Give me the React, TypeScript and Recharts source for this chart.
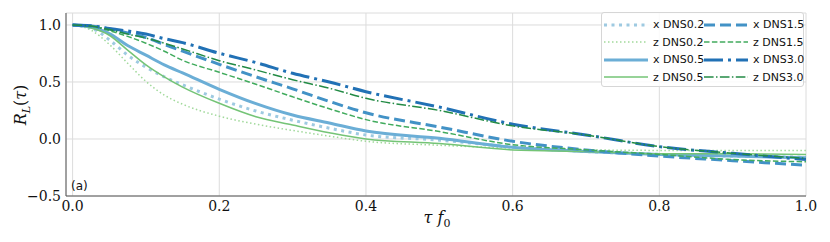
import React from "react";
import { LineChart, Line, XAxis, YAxis, CartesianGrid } from "recharts";

// lag tau*f0 and the correlation curves
const tau = [0, 0.025, 0.05, 0.075, 0.1, 0.125, 0.15, 0.2, 0.25, 0.3, 0.35, 0.4, 0.5, 0.6, 0.7, 0.8, 0.9, 1.0];
const xDns02 = [1, 0.975, 0.87, 0.735, 0.63, 0.545, 0.475, 0.35, 0.245, 0.165, 0.095, 0.035, -0.01, -0.07, -0.11, -0.135, -0.15, -0.16];
const zDns02 = [1, 0.955, 0.83, 0.665, 0.505, 0.385, 0.305, 0.2, 0.13, 0.075, 0.025, -0.02, -0.055, -0.08, -0.095, -0.1, -0.1, -0.1];
const xDns05 = [1, 0.98, 0.925, 0.82, 0.735, 0.65, 0.58, 0.436, 0.31, 0.21, 0.14, 0.07, 0.006, -0.073, -0.11, -0.135, -0.15, -0.165];
const zDns05 = [1, 0.975, 0.91, 0.78, 0.65, 0.545, 0.455, 0.313, 0.195, 0.123, 0.055, 0.0, -0.04, -0.096, -0.11, -0.13, -0.13, -0.135];
const xDns15 = [1, 0.99, 0.965, 0.93, 0.89, 0.83, 0.77, 0.655, 0.545, 0.44, 0.33, 0.23, 0.105, -0.02, -0.096, -0.15, -0.19, -0.23];
const zDns15 = [1, 0.99, 0.95, 0.9, 0.84, 0.77, 0.69, 0.585, 0.48, 0.37, 0.265, 0.17, 0.065, -0.05, -0.095, -0.135, -0.18, -0.2];
const xDns30 = [1, 0.993, 0.97, 0.947, 0.92, 0.88, 0.845, 0.752, 0.67, 0.576, 0.5, 0.415, 0.28, 0.13, 0.035, -0.067, -0.126, -0.18];
const zDns30 = [1, 0.99, 0.96, 0.92, 0.885, 0.84, 0.79, 0.687, 0.605, 0.52, 0.445, 0.357, 0.25, 0.115, 0.035, -0.067, -0.125, -0.17];

const xTicks = [0, 0.2, 0.4, 0.6, 0.8, 1.0];
const yTicks = [-0.5, 0, 0.5, 1.0];

const series = [
  { key: "x02", name: "x DNS0.2", values: xDns02, color: "#9ecae1", width: 3, dash: "3 4.5" },
  { key: "z02", name: "z DNS0.2", values: zDns02, color: "#a1d99b", width: 1.5, dash: "1.5 2.5" },
  { key: "x05", name: "x DNS0.5", values: xDns05, color: "#6baed6", width: 3, dash: undefined },
  { key: "z05", name: "z DNS0.5", values: zDns05, color: "#74c476", width: 1.5, dash: undefined },
  { key: "x15", name: "x DNS1.5", values: xDns15, color: "#4292c6", width: 3, dash: "11 5" },
  { key: "z15", name: "z DNS1.5", values: zDns15, color: "#41ab5d", width: 1.5, dash: "5.5 2.4" },
  { key: "x30", name: "x DNS3.0", values: xDns30, color: "#2171b5", width: 3, dash: "19 5 3 5" },
  { key: "z30", name: "z DNS3.0", values: zDns30, color: "#238b45", width: 1.5, dash: "9.6 2.4 1.5 2.4" },
];

const data = tau.map((t, i) => {
  const row: Record<string, number> = { t };
  series.forEach((s) => (row[s.key] = s.values[i]));
  return row;
});

const serif = "'DejaVu Serif', serif";
const sans = "'DejaVu Sans', sans-serif";
const fmt = (v: number) => (v < 0 ? "\u2212" + Math.abs(v).toFixed(1) : v.toFixed(1));

const XTick = (props: any) => {
  const { x, y, payload } = props;
  return (
    <text x={x} y={y + 13} textAnchor="middle" style={{ fontFamily: serif, fontSize: 14 }} fill="#111">
      {fmt(payload.value)}
    </text>
  );
};

const YTick = (props: any) => {
  const { x, y, payload } = props;
  return (
    <text x={x - 3} y={y + 5} textAnchor="end" style={{ fontFamily: serif, fontSize: 14 }} fill="#111">
      {fmt(payload.value)}
    </text>
  );
};

const LegendBox: React.FC = () => {
  // matplotlib ncol=2 fills columns first
  const cols = [series.slice(0, 4), series.slice(4, 8)];
  return (
    <div
      style={{
        position: "absolute",
        left: 601,
        top: 12,
        width: 203,
        height: 75,
        border: "1px solid #d6d6d6",
        borderRadius: 3,
        background: "rgba(255,255,255,0.85)",
        boxSizing: "border-box",
        display: "flex",
        fontFamily: sans,
        fontSize: 11,
        color: "#111",
      }}
    >
      {cols.map((col, ci) => (
        <div key={ci} style={{ display: "flex", flexDirection: "column", paddingTop: 3 }}>
          {col.map((s) => (
            <div key={s.key} style={{ display: "flex", alignItems: "center", height: 18.8 }}>
              <svg width={46} height={10} style={{ marginLeft: ci === 0 ? 1 : 0 }}>
                <line x1={1} x2={45} y1={5} y2={5} stroke={s.color} strokeWidth={s.width} strokeDasharray={s.dash} />
              </svg>
              <span style={{ marginLeft: 4, width: 50, whiteSpace: "nowrap" }}>{s.name}</span>
            </div>
          ))}
        </div>
      ))}
    </div>
  );
};

const App: React.FC = () => {
  return (
    <div style={{ position: "absolute", left: 0, top: 0, width: 830, height: 242 }}>
      <LineChart width={830} height={242} data={data} margin={{ top: 13, right: 24, left: 0, bottom: 0 }}>
        <CartesianGrid stroke="#dcdcdc" strokeWidth={1} />
        <XAxis
          dataKey="t"
          type="number"
          domain={[-0.009, 1]}
          ticks={xTicks}
          height={46}
          tickLine={false}
          tickSize={0}
          axisLine={{ stroke: "#555" }}
          tick={<XTick />}
          allowDataOverflow
        />
        <XAxis xAxisId="top" orientation="top" dataKey="t" type="number" domain={[-0.009, 1]} height={0} tick={false} tickLine={false} axisLine={{ stroke: "#555" }} />
        <YAxis
          type="number"
          domain={[-0.5, 1.105]}
          ticks={yTicks}
          width={66}
          tickLine={false}
          tickSize={0}
          axisLine={{ stroke: "#555" }}
          tick={<YTick />}
          allowDataOverflow
        />
        <YAxis yAxisId="right" orientation="right" domain={[-0.5, 1.105]} width={0} tick={false} tickLine={false} axisLine={{ stroke: "#555" }} />
        {series.map((s) => (
          <Line
            key={s.key}
            type="monotone"
            dataKey={s.key}
            name={s.name}
            stroke={s.color}
            strokeWidth={s.width}
            strokeDasharray={s.dash}
            dot={false}
            activeDot={false}
            isAnimationActive={false}
          />
        ))}
      </LineChart>
      <svg width={830} height={242} style={{ position: "absolute", left: 0, top: 0, pointerEvents: "none" }}>
        <text x={71} y={190} fontFamily={sans} fontSize={12} fill="#111">
          (a)
        </text>
        <text transform="translate(26,105) rotate(-90)" textAnchor="middle" style={{ fontFamily: serif, fontSize: 16 }} fill="#111">
          <tspan fontStyle="italic">R</tspan>
          <tspan fontStyle="italic" fontSize={11} dy={4}>L</tspan>
          <tspan dy={-4}>(</tspan>
          <tspan fontStyle="italic">τ</tspan>
          <tspan>)</tspan>
        </text>
        <text x={437} y={223} textAnchor="middle" style={{ fontFamily: serif, fontSize: 16 }} fill="#111">
          <tspan fontStyle="italic">τ f</tspan>
          <tspan fontSize={11} dy={4}>0</tspan>
        </text>
      </svg>
      <LegendBox />
    </div>
  );
};

export default App;
